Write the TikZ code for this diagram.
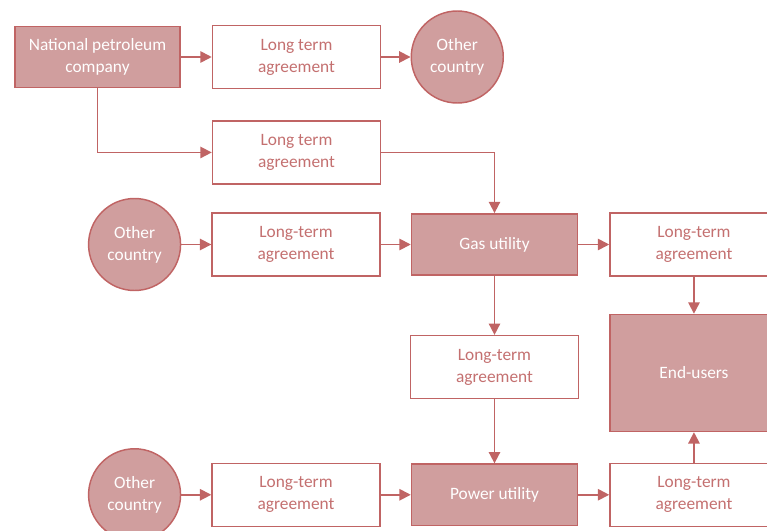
\documentclass[tikz,border=0pt]{standalone}
\usepackage{fontspec}
\setmainfont{Carlito}
\usetikzlibrary{positioning,arrows.meta}

\definecolor{rimred}{RGB}{192,100,100}
\definecolor{fillred}{RGB}{208,158,158}
\definecolor{textred}{RGB}{196,112,112}

\tikzset{
  base/.style={draw=rimred, line width=1.1pt, align=center,
    font=\fontsize{13}{16.5}\selectfont, inner sep=2pt},
  agreement/.style={base, fill=white, text=textred,
    minimum width=126pt, minimum height=47.25pt},
  party/.style={base, fill=fillred, text=white,
    minimum width=124.5pt, minimum height=46pt},
  country/.style={base, circle, fill=fillred, text=white,
    minimum size=69pt},
  flow/.style={draw=rimred, line width=1.3pt,
    -{Triangle[length=8.5pt,width=8.5pt]}},
}

\begin{document}
\begin{tikzpicture}[x=0.75pt,y=-0.75pt]
  \useasboundingbox (0,0) rectangle (767,531);

  \node[party, minimum width=123.75pt] (npc) at (97.5,57) {National petroleum\\company};
  \node[agreement, right=23.25pt of npc] (lta1) {Long term\\agreement};
  \node[country, right=22pt of lta1] (oc1) {Other\\country};
  \node[agreement, below=23.25pt of lta1] (lta2) {Long term\\agreement};

  \node[party] (gas) at (494.5,244.5) {Gas utility};
  \node[agreement, left=22.5pt of gas] (lta3) {Long-term\\agreement};
  \node[country, left=22.5pt of lta3] (oc2) {Other\\country};
  \node[agreement, right=23.25pt of gas] (ltaeg) {Long-term\\agreement};
  \node[party, minimum width=126pt, minimum height=87.75pt,
        below=27.75pt of ltaeg] (end) {End-users};

  \node[agreement, below=44.25pt of gas] (ltagp) {Long-term\\agreement};
  \node[party, below=48pt of ltagp] (power) {Power utility};
  \node[agreement, left=22.5pt of power] (lta4) {Long-term\\agreement};
  \node[country, left=22.5pt of lta4] (oc3) {Other\\country};
  \node[agreement, right=23.25pt of power] (ltape) {Long-term\\agreement};

  \draw[flow] (npc) -- (lta1);
  \draw[flow] (lta1) -- (oc1);
  \draw[flow] (npc.south) |- (lta2.west);
  \draw[flow] (lta2.east) -| (gas.north);
  \draw[flow] (oc2) -- (lta3);
  \draw[flow] (lta3) -- (gas);
  \draw[flow] (gas) -- (ltaeg);
  \draw[flow] (ltaeg) -- (end);
  \draw[flow] (gas) -- (ltagp);
  \draw[flow] (ltagp) -- (power);
  \draw[flow] (oc3) -- (lta4);
  \draw[flow] (lta4) -- (power);
  \draw[flow] (power) -- (ltape);
  \draw[flow] (ltape) -- (end);
\end{tikzpicture}
\end{document}
